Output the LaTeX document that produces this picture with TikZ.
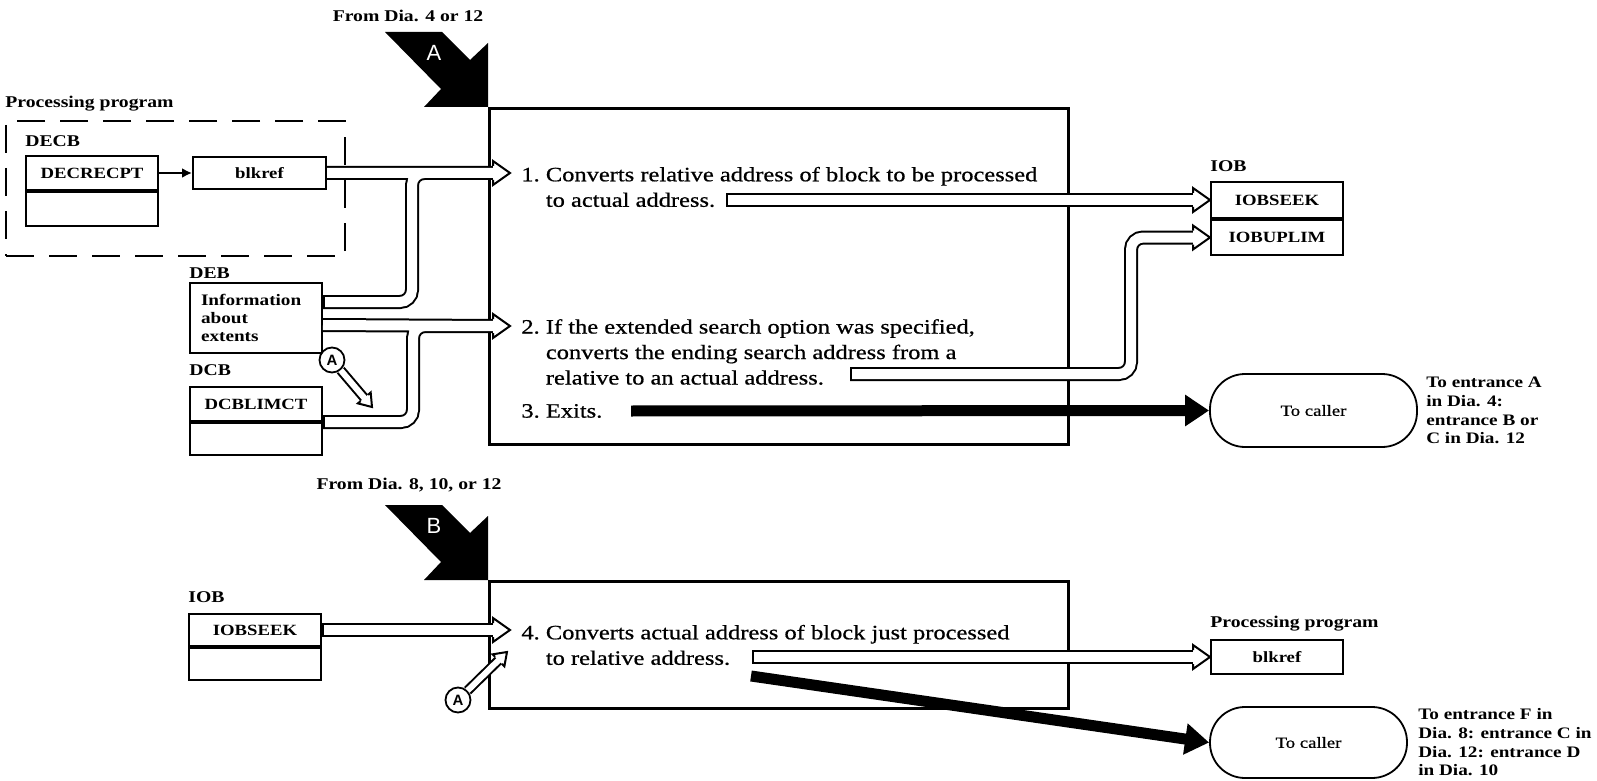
\documentclass[tikz,border=0pt]{standalone}
\usepackage{fontspec}
\setmainfont{Liberation Serif}[FakeStretch=1.2]
\setsansfont{Liberation Sans}
\usetikzlibrary{arrows.meta,positioning,calc}

\tikzset{
  phead/.pic={
    \filldraw[fill=white,draw=black,line width=1pt]
      (-17,-7) -- (-17,-12) -- (0,0) -- (-17,12) -- (-17,7);
  },
  pics/entry/.style={code={
    \fill (-103,-75) -- (-46,-75) -- (-18,-47) -- (0,-64) -- (0,0) -- (-64,0) -- (-47,-18) -- cycle;
    \node[text=white,font=\sffamily\fontsize{11}{12}\selectfont] (-l) at (-54,-54) {#1};
  }}
}

\begin{document}
\begin{tikzpicture}[x=0.5pt,y=-0.5pt,
  lbl/.style={font=\fontsize{8.2}{9.4}\selectfont\bfseries,inner sep=0pt},
  fld/.style={draw,line width=1pt,minimum width=66pt,minimum height=17pt,inner sep=0pt,font=\fontsize{7.8}{9}\selectfont\bfseries},
  item/.style={anchor=west,align=left,inner sep=0pt,font=\fontsize{10.2}{12.75}\selectfont\addfontfeatures{FakeBold=0.7}},
  proc/.style={draw,line width=1.3pt,anchor=north west,inner sep=0pt},
  caller/.style={draw,line width=0.9pt,rounded corners=17.5pt,minimum width=103.5pt,minimum height=36.5pt,font=\fontsize{7.8}{9}\selectfont\addfontfeatures{FakeBold=0.5}},
  note/.style={anchor=west,align=left,inner sep=0pt,font=\fontsize{8}{9.35}\selectfont\bfseries},
  acirc/.style={circle,draw,line width=0.9pt,fill=white,minimum size=12.5pt,inner sep=0pt,font=\sffamily\bfseries\fontsize{7.5}{8}\selectfont},
  pipe/.style={line width=7pt,rounded corners=6pt,postaction={draw=white,line width=5pt,shorten <=1pt}},
  spipe/.style={line width=5pt,postaction={draw=white,line width=3pt}},
  exitarr/.style={line width=5.5pt,-{Triangle[length=12pt,width=15pt]}}]
\useasboundingbox (0,0) rectangle (1597,781);

\node[proc,minimum width=289.5pt,minimum height=168pt] (procA) at (488,107) {};
\node[proc,minimum width=289.5pt,minimum height=63.5pt] (procB) at (488,580) {};
\pic (flagA) at (procA.north west) {entry=A};
\pic (flagB) at (procB.north west) {entry=B};
\node[lbl] (fromA) at (408,16) {From Dia. 4 or 12};
\node[lbl] (fromB) at (409,485) {From Dia. 8, 10, or 12};

\node[proc,line width=1pt,dash pattern=on 14pt off 7.5pt,minimum width=169.5pt,minimum height=67.5pt] (pp) at (5,120) {};
\node[lbl,above=4pt of pp.north west,anchor=south west] (pplbl) {Processing program};
\node[fld] (decrecpt) at (92,173) {DECRECPT};
\node[fld,below=0pt of decrecpt] (decb2) {};
\node[lbl,above=4pt of decrecpt.north west,anchor=south west] (decblbl) {DECB};
\node[fld,right=16.5pt of decrecpt,minimum width=66.5pt,minimum height=16pt] (blkref) {blkref};

\node[fld,minimum height=35pt,align=left,text width=55pt,font=\fontsize{8}{9}\selectfont\bfseries] (deb) at (256,318) {Information\\about\\extents};
\node[lbl,above=1.5pt of deb.north west,anchor=south west] (deblbl) {DEB};
\node[fld] (dcblim) at (256,404) {DCBLIMCT};
\node[fld,below=0pt of dcblim,minimum height=16pt] (dcb2) {};
\node[lbl,above=5pt of dcblim.north west,anchor=south west] (dcblbl) {DCB};

\node[item] (it1) at (521,187) {1.~Converts relative address of block to be processed\\\phantom{1.}~to actual address.};
\node[item] (it2) at (521,352) {2.~If the extended search option was specified,\\\phantom{2.}~converts the ending search address from a\\\phantom{2.}~relative to an actual address.};
\node[item] (it3) at (521,411) {3.~Exits.};
\node[item] (it4) at (521,645) {4.~Converts actual address of block just processed\\\phantom{4.}~to relative address.};

\node[fld,minimum height=18pt] (iobseek) at (1277,200) {IOBSEEK};
\node[fld,below=0pt of iobseek,minimum height=17.5pt] (iobuplim) {IOBUPLIM};
\node[lbl,above=4.5pt of iobseek.north west,anchor=south west] (ioblbl) {IOB};
\node[caller] (caller1) at (1313.5,410.5) {To caller};
\node[note,right=4pt of caller1] (note1) {To entrance A\\in Dia. 4:\\entrance B or\\C in Dia. 12};

\node[fld,minimum height=16pt] (iobseek2) at (255,630) {IOBSEEK};
\node[fld,below=0pt of iobseek2,minimum height=16pt] (iob2b) {};
\node[lbl,above=5pt of iobseek2.north west,anchor=south west] (iob2lbl) {IOB};
\node[fld] (blkref2) at (1277,657) {blkref};
\node[lbl,above=3.5pt of blkref2.north west,anchor=south west] (pp2lbl) {Processing program};
\node[caller,minimum width=98.5pt,minimum height=35.5pt] (caller2) at (1308.5,742.5) {To caller};
\node[note,right=5pt of caller2] (note2) {To entrance F in\\Dia. 8: entrance C in\\Dia. 12: entrance D\\in Dia. 10};

\node[acirc] (cA1) at (332,360) {A};
\node[acirc] (cA2) at (458,700) {A};

\coordinate (in1) at (510,173);
\coordinate (in2) at (510,326);
\coordinate (in4) at (510,630);
\coordinate (out1) at (726,200);
\coordinate (out2) at (850,374);
\coordinate (out3) at (631,411);
\coordinate (out4) at (752,657);
\coordinate (out5) at (751,676);
\coordinate (tA1) at (372,407);
\coordinate (tA2) at (507,652);

\draw[line width=1pt,-{Latex[length=5pt,width=5pt]}] (decrecpt) -- (blkref);
\draw[pipe] (blkref.east) -- ($(in1)+(-15,0)$)
  ($(deb.north east)+(0,20)$) -| (412,173) -- ($(in1)+(-15,0)$);
\draw[pipe] ($(deb.north east)+(0,43)$) -- ($(in2)+(-15,0)$)
  (dcblim.south east) -| (413,326) -- ($(in2)+(-15,0)$);
\draw[pipe] (out1) -- ($(iobseek.west)+(-15,0)$);
\draw[pipe] (out2) -| ($(iobuplim.west)+(-79,0)$) -- ($(iobuplim.west)+(-15,0)$);
\draw[pipe] (iobseek2.east) -- ($(in4)+(-15,0)$);
\draw[pipe] (out4) -- ($(blkref2.west)+(-15,0)$);
\draw[spipe] (cA1) -- ($(cA1)!0.83!(tA1)$);
\draw[spipe] (cA2) -- ($(cA2)!0.85!(tA2)$);
\foreach \t in {in1,in2,in4,iobseek.west,iobuplim.west,blkref2.west}
  \pic at (\t) {phead};
\pic[rotate=-49.6,scale=0.7] at (tA1) {phead};
\pic[rotate=44.4,scale=0.7] at (tA2) {phead};

\draw[exitarr] (out3) -- (caller1.west);
\draw[exitarr] (out5) -- (caller2.west);
\end{tikzpicture}
\end{document}
